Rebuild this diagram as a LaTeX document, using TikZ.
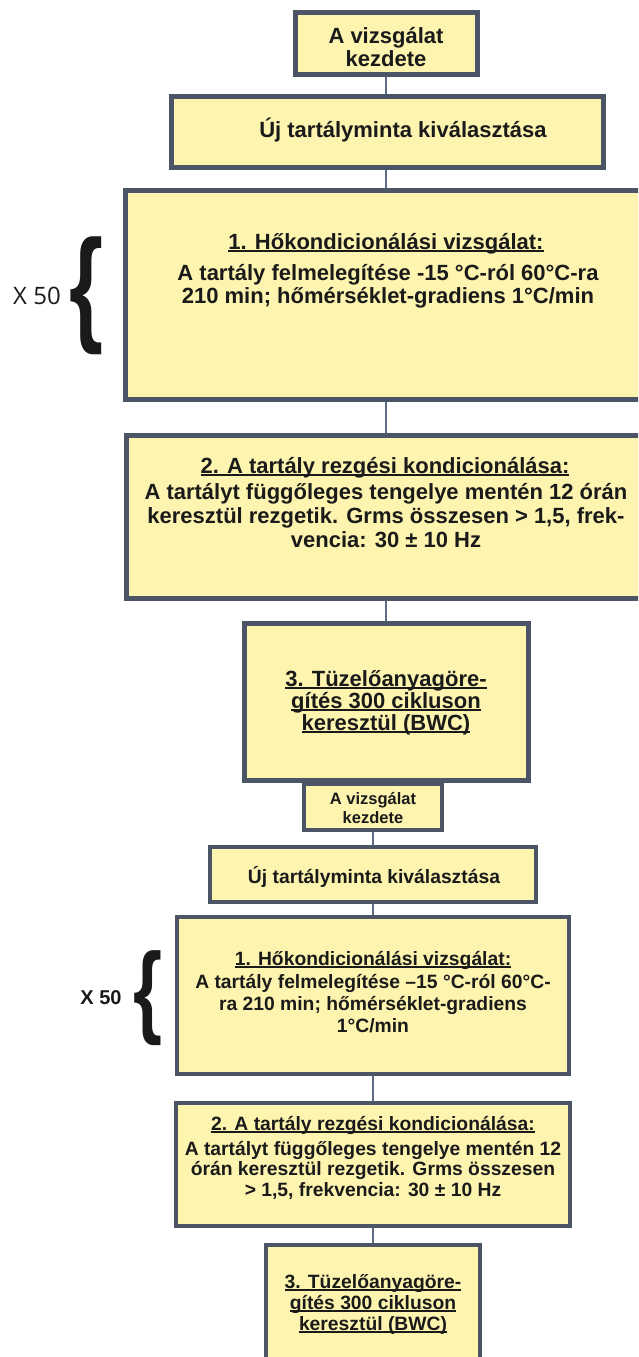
\documentclass[tikz,border=0pt]{standalone}
\usepackage{fontspec}
\setmainfont{Liberation Sans}
\newfontfamily\xfont{Open Sans}
\usepackage{graphicx}
\definecolor{boxc}{HTML}{FDF5AF}
\definecolor{bordc}{HTML}{4B5566}
\definecolor{linec}{HTML}{5D6D87}
\definecolor{txtc}{HTML}{1A1A1A}
\newcommand\myul[1]{\setbox0\hbox{#1}\rlap{\color{txtc}\rule[-3pt]{\wd0}{1.6pt}}\box0}
\begin{document}
\begin{tikzpicture}[x=1pt,y=-1pt,
  box/.style={draw=bordc, fill=boxc, line width=5pt, inner sep=0pt},
  sbox/.style={draw=bordc, fill=boxc, line width=4pt, inner sep=0pt},
  conn/.style={draw=linec, line width=2.5pt},
  big/.style={anchor=base, inner sep=0pt, text=txtc, font=\bfseries\fontsize{22}{24}\selectfont},
  small/.style={anchor=base, inner sep=0pt, text=txtc, font=\bfseries\fontsize{19.3}{21}\selectfont},
  tiny/.style={anchor=base, inner sep=0pt, text=txtc, font=\bfseries\fontsize{16.5}{18}\selectfont}]
\useasboundingbox (0,0) rectangle (638,1357);
\clip (0,0) rectangle (638,1357);
% top section boxes
\node[box, minimum width=182pt, minimum height=62pt] (B1) at (386,43) {};
\node[box, minimum width=432pt, minimum height=71pt] (B2) at (387,131.5) {};
\node[box, minimum width=522pt, minimum height=209pt] (B3) at (386,294.5) {};
\node[box, minimum width=520pt, minimum height=163pt] (B4) at (386,516.5) {};
\node[box, minimum width=284pt, minimum height=157pt] (B5) at (386,701.5) {};
% bottom section boxes
\node[sbox, minimum width=138pt, minimum height=46pt] (B6) at (373,807) {};
\node[sbox, minimum width=326pt, minimum height=55pt] (B7) at (373,874.5) {};
\node[sbox, minimum width=392pt, minimum height=157pt] (B8) at (373,995.5) {};
\node[sbox, minimum width=394pt, minimum height=123pt] (B9) at (373,1164) {};
\node[sbox, minimum width=214pt, minimum height=200pt] (B10) at (373,1345) {};
% connectors
\draw[conn] (B1.south) -- (B1.south |- B2.north);
\draw[conn] (B2.south -| B3.north) -- (B3.north);
\draw[conn] (B3.south) -- (B4.north);
\draw[conn] (B4.south) -- (B5.north);
\draw[conn] (B6.south) -- (B7.north);
\draw[conn] (B7.south) -- (B8.north);
\draw[conn] (B8.south) -- (B9.north);
\draw[conn] (B9.south) -- (B10.north);
% texts top
\node[big] (t1a) at (386,43) {A vizsgálat};
\node[big] (t1b) at (386,66) {kezdete};
\node[big] (t2a) at (403,137) {Új tartályminta kiválasztása};
\node[big] (t3a) at (386,249) {\myul{1. Hőkondicionálási vizsgálat:}};
\node[big] (t3b) at (388,280) {A tartály felmelegítése -15 °C-ról 60°C-ra};
\node[big] (t3c) at (388,303) {210 min; hőmérséklet-gradiens 1°C/min};
\node[big] (t4a) at (385,473) {\myul{2. A tartály rezgési kondicionálása:}};
\node[big] (t4b) at (386,499) {A tartályt függőleges tengelye mentén 12 órán};
\node[big] (t4c) at (386,523) {keresztül rezgetik. Grms összesen > 1,5, frek-};
\node[big] (t4d) at (386,547) {vencia: 30 ± 10 Hz};
\node[big] (t5a) at (386,686) {\myul{3. Tüzelőanyagöre-}};
\node[big] (t5b) at (386,708) {\myul{gítés 300 cikluson}};
\node[big] (t5c) at (386,730) {\myul{keresztül (BWC)}};
% texts bottom
\node[tiny] (t6a) at (373,804) {A vizsgálat};
\node[tiny] (t6b) at (373,823) {kezdete};
\node[small] (t7a) at (374,883) {Új tartályminta kiválasztása};
\node[small] (t8a) at (373,965) {\myul{1. Hőkondicionálási vizsgálat:}};
\node[small] (t8b) at (373,988) {A tartály felmelegítése –15 °C-ról 60°C-};
\node[small] (t8c) at (373,1010) {ra 210 min; hőmérséklet-gradiens};
\node[small] (t8d) at (373,1032) {1°C/min};
\node[small] (t9a) at (373,1130) {\myul{2. A tartály rezgési kondicionálása:}};
\node[small] (t9b) at (373,1155) {A tartályt függőleges tengelye mentén 12};
\node[small] (t9c) at (373,1175) {órán keresztül rezgetik. Grms összesen};
\node[small] (t9d) at (373,1196) {> 1,5, frekvencia: 30 ± 10 Hz};
\node[small] (t10a) at (373,1288) {\myul{3. Tüzelőanyagöre-}};
\node[small] (t10b) at (373,1309) {\myul{gítés 300 cikluson}};
\node[small] (t10c) at (373,1330) {\myul{keresztül (BWC)}};
% repeat markers
\node[inner sep=0pt, text=txtc] (BR1) at (87,296) {\resizebox*{34pt}{118pt}{\bfseries\{}};
\node[inner sep=0pt, text=txtc, font=\xfont\fontsize{24}{24}\selectfont] (X1) at (37,296) {X 50};
\node[inner sep=0pt, text=txtc] (BR2) at (148,998) {\resizebox*{29pt}{95pt}{\bfseries\{}};
\node[inner sep=0pt, text=txtc, font=\bfseries\fontsize{20}{20}\selectfont] (X2) at (101,998) {X 50};
\end{tikzpicture}
\end{document}
